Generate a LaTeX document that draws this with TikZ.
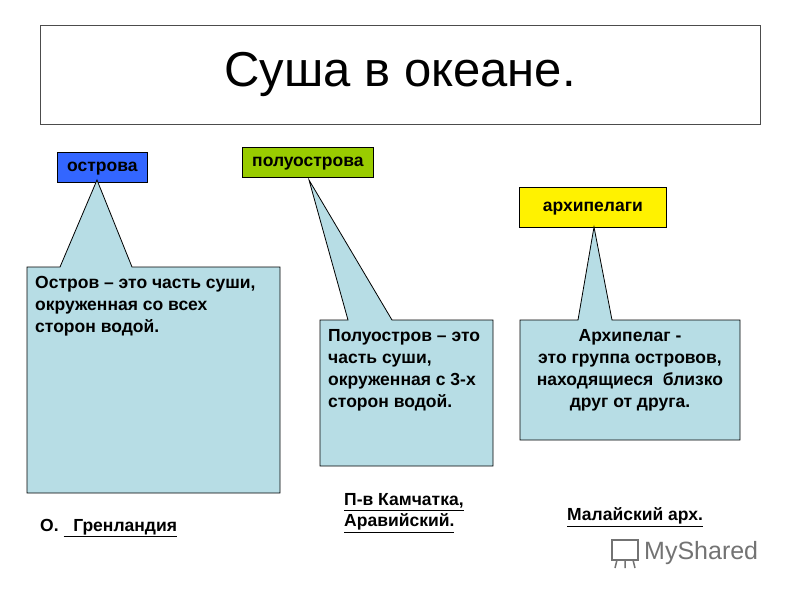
\documentclass[tikz,border=0pt]{standalone}
\usepackage{fontspec}
\setmainfont{Liberation Sans}
\begin{document}
\begin{tikzpicture}[x=1pt,y=-1pt,
  tag/.style={draw=black,line width=0.8pt,font=\bfseries\fontsize{17.5}{20}\selectfont,inner sep=0pt,text height=9pt,text depth=0pt},
  callout/.style={draw=black,line width=0.8pt,fill={rgb,255:red,183;green,221;blue,229}},
  ctext/.style={font=\bfseries\fontsize{17.5}{22}\selectfont,inner sep=0pt},
  ex/.style={font=\bfseries\fontsize{17.5}{21}\selectfont,inner sep=0pt,anchor=west,align=left}]
\useasboundingbox (0,0) rectangle (800,600);
\node[draw=black!70,minimum width=720pt,minimum height=99pt,inner sep=0pt,anchor=north west,font=\fontsize{49}{56}\selectfont] (title) at (40,25) {Суша в океане.};
\node[tag,fill={rgb,255:red,51;green,102;blue,255},minimum width=90pt,minimum height=30pt,anchor=north west] (o) at (57,152) {острова};
\node[tag,fill={rgb,255:red,153;green,204;blue,0},minimum width=131pt,minimum height=30pt,anchor=north west] (p) at (242,147) {полуострова};
\node[tag,fill=yellow,minimum width=147pt,minimum height=40pt,anchor=north west] (a) at (519,187) {архипелаги};
\coordinate (t1) at (97,180);
\coordinate (t2) at (309,180);
\coordinate (t3) at (594,227);
\draw[callout] (27,267) -- (60,267) -- (t1) -- (132,267) -- (280,267) -- (280,493) -- (27,493) -- cycle;
\draw[callout] (320,320) -- (348,320) -- (t2) -- (392,320) -- (493,320) -- (493,466) -- (320,466) -- cycle;
\draw[callout] (520,320) -- (578,320) -- (t3) -- (612,320) -- (740,320) -- (740,440) -- (520,440) -- cycle;
\node[ctext,align=left,anchor=north west] (c1) at (35,276) {Остров – это часть суши,\\окруженная со всех\\сторон водой.};
\node[ctext,align=left,anchor=north west] (c2) at (328,329) {Полуостров – это\\часть суши,\\окруженная с 3-х\\сторон водой.};
\node[ctext,align=center,anchor=north] (c3) at (630,329) {Архипелаг -\\это группа островов,\\находящиеся\ \ близко\\друг от друга.};
\node[ex] (e1) at (40,528) {О. \underline{\ \ Гренландия}};
\node[ex] (e2) at (344,513) {\underline{П-в Камчатка,}\\\underline{Аравийский.}};
\node[ex] (e3) at (567,517) {\underline{Малайский арх.}};
\node[font=\fontsize{25}{30}\selectfont,text=black!55,anchor=west,inner sep=0pt] (wm) at (644,553) {MyShared};
\draw[black!55,line width=2pt] (612,540) rectangle (638,560);
\draw[black!55,line width=1.5pt] (617,560) -- (615,568) (625,560) -- (625,568) (633,560) -- (635,568);
\end{tikzpicture}
\end{document}
